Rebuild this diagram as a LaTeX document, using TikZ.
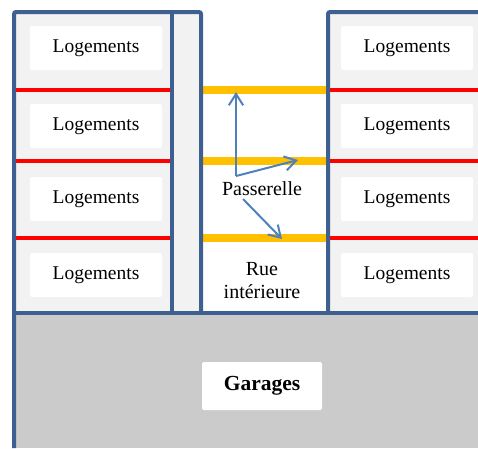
\documentclass[tikz,border=0pt]{standalone}
\usepackage{fontspec}
\setmainfont{Liberation Serif}
\usetikzlibrary{arrows.meta}
\definecolor{wallblue}{RGB}{62,96,145}
\definecolor{arrowblue}{RGB}{79,129,189}
\definecolor{walkway}{RGB}{255,192,0}
\definecolor{lightbg}{RGB}{242,242,242}
\definecolor{garagebg}{RGB}{203,203,203}
\tikzset{
  lbox/.style={fill=white, rounded corners=2pt, minimum width=132pt, minimum height=44pt, font=\fontsize{19.5}{22}\selectfont},
  gbox/.style={lbox, minimum width=120pt, minimum height=48pt, font=\fontsize{21.5}{24}\selectfont\bfseries},
  wall/.style={draw=wallblue, line width=4pt, rounded corners=2pt},
  floorline/.style={draw=red, line width=3.5pt},
  bridge/.style={draw=walkway, line width=7.5pt},
  flow/.style={-{Straight Barb[length=4mm, width=5mm]}, draw=arrowblue, line width=2pt},
  tlabel/.style={align=center, font=\fontsize{20}{23}\selectfont},
}

\begin{document}
\begin{tikzpicture}[x=1pt, y=-1pt]
    \useasboundingbox (0,0) rectangle (478,448);
    \fill[lightbg] (14,12) rectangle (201,313);
    \fill[lightbg] (328,12) rectangle (478,313);
    \fill[garagebg] (14,313) rectangle (478,448);
    % floors
    \foreach \y in {90,161,238} {
      \draw[floorline] (14,\y) -- (172,\y);
      \draw[floorline] (328,\y) -- (478,\y);
      \draw[bridge] (201,\y) -- (328,\y);
    }
    % walls
    \draw[wall] (14,448) -- (14,12) -- (201,12) -- (201,313);
    \draw[wall] (172,12) -- (172,313);
    \draw[wall] (328,313) -- (328,12) -- (480,12);
    \draw[wall, rounded corners=0pt] (14,313) -- (480,313);
    % housing
    \node[lbox] (l1) at (96,48) {Logements};
    \node[lbox] (l2) at (96,126) {Logements};
    \node[lbox] (l3) at (96,199) {Logements};
    \node[lbox] (l4) at (96,275) {Logements};
    \node[lbox] (r1) at (407,48) {Logements};
    \node[lbox] (r2) at (407,126) {Logements};
    \node[lbox] (r3) at (407,199) {Logements};
    \node[lbox] (r4) at (407,275) {Logements};
    \node[gbox] (garages) at (262,386) {Garages};
    \node[tlabel] (pass) at (262,189) {Passerelle};
    \node[tlabel] (rue) at (262,281) {Rue\\intérieure};
    \coordinate (pa) at (236,176);
    \coordinate (pb) at (243,199);
    \coordinate (b1) at (236,92);
    \coordinate (b2) at (298,160);
    \coordinate (b3) at (282,239);
    \draw[flow] (pa) -- (b1);
    \draw[flow] (pa) -- (b2);
    \draw[flow] (pb) -- (b3);
  \end{tikzpicture}
\end{document}
